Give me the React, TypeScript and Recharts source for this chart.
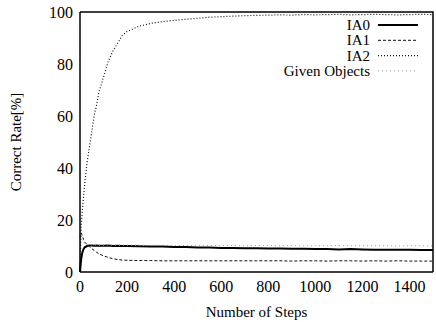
import { Line, LineChart, XAxis, YAxis } from "recharts"

const steps = [
  0, 5, 10, 15, 20, 30, 40, 50, 60, 70, 80, 100, 120, 140, 160, 180, 200, 250, 300, 350, 400, 450, 500,
  550, 600, 650, 700, 750, 800, 850, 900, 950, 1000, 1050, 1100, 1150, 1200, 1250, 1300, 1350, 1400,
  1450, 1500,
]

const ia0 = [
  0, 5, 7.5, 8.8, 9.5, 10, 10.2, 10.2, 10.1, 10.2, 10.1, 10.1, 10.2, 10, 10.1, 10, 10, 9.9, 9.8, 9.8,
  9.6, 9.6, 9.4, 9.4, 9.2, 9.2, 9.1, 9.1, 9, 9, 8.9, 8.9, 8.8, 8.8, 8.7, 8.8, 8.7, 8.6, 8.6, 8.6, 8.6,
  8.5, 8.5,
]

const ia1 = [
  13, 15, 14, 12.5, 11.5, 10.5, 9.8, 9, 8.3, 7.6, 7, 6.2, 5.6, 5.1, 4.8, 4.6, 4.5, 4.4, 4.4, 4.3, 4.3,
  4.3, 4.3, 4.3, 4.3, 4.3, 4.3, 4.3, 4.3, 4.3, 4.2, 4.3, 4.3, 4.2, 4.3, 4.3, 4.2, 4.3, 4.2, 4.3, 4.2,
  4.2, 4.2,
]

const ia2 = [
  2, 17, 24, 29, 34, 42, 48, 54, 60, 64, 69, 75, 81, 85, 88, 91, 92.5, 94.5, 95.6, 96.3, 96.8, 97.2,
  97.6, 98, 98.2, 98.4, 98.6, 98.7, 98.8, 98.9, 98.8, 99, 98.9, 99, 99.1, 98.9, 99, 99.1, 99, 98.9, 99,
  99.1, 99,
]

const given = [
  14, 13, 12, 11.3, 10.8, 10.5, 10.4, 10.4, 10.3, 10.4, 10.3, 10.3, 10.4, 10.3, 10.3, 10.3, 10.3,
  10.3, 10.2, 10.3, 10.2, 10.2, 10.3, 10.2, 10.2, 10.2, 10.1, 10.2, 10.2, 10.1, 10.2, 10.1, 10.1, 10.1,
  10.2, 10.1, 10.1, 10.1, 10.1, 10, 10.1, 10.1, 10,
]

const xTicks = [0, 200, 400, 600, 800, 1000, 1200, 1400]
const yTicks = [0, 20, 40, 60, 80, 100]

const data = steps.map((s, i) => ({ step: s, ia0: ia0[i], ia1: ia1[i], ia2: ia2[i], given: given[i] }))

const series = [
  { key: "ia0", name: "IA0", color: "#000", width: 2, dash: undefined },
  { key: "ia1", name: "IA1", color: "#111", width: 1, dash: "3 2" },
  { key: "ia2", name: "IA2", color: "#111", width: 1.2, dash: "1 2" },
  { key: "given", name: "Given Objects", color: "#999", width: 1, dash: "1 3" },
]

const font = "'Liberation Serif', 'Times New Roman', serif"

const margin = { top: 12, right: 3, bottom: 0, left: 0 }
const chartW = 436
const chartH = 322
const yAxisW = 80
const xAxisH = 50

// top + right border of the plot box (the axes draw left + bottom)
function Frame() {
  const left = margin.left + yAxisW
  const top = margin.top
  const right = chartW - margin.right
  const bottom = chartH - margin.bottom - xAxisH
  return (
    <svg
      width={chartW}
      height={chartH}
      style={{ position: "absolute", left: 0, top: 0, pointerEvents: "none" }}
    >
      <polyline
        points={`${left},${top} ${right},${top} ${right},${bottom}`}
        fill="none"
        stroke="#000"
        strokeWidth={1.5}
      />
    </svg>
  )
}

function LegendBox() {
  return (
    <svg
      width={170}
      height={70}
      style={{ position: "absolute", left: 260, top: 13, fontFamily: font, pointerEvents: "none" }}
    >
      {series.map((s, i) => (
        <g key={s.key}>
          <text x={110} y={17 + i * 15.3} textAnchor="end" fontSize={15} fill="#000">
            {s.name}
          </text>
          <line
            x1={118}
            x2={158}
            y1={12 + i * 15.3}
            y2={12 + i * 15.3}
            stroke={s.color}
            strokeWidth={s.width}
            strokeDasharray={s.dash}
          />
        </g>
      ))}
    </svg>
  )
}

export default function App() {
  const tickStyle = { fontSize: 16, fill: "#000", fontFamily: font }
  return (
    <div style={{ position: "absolute", left: 0, top: 0, width: chartW, height: chartH, background: "#fff" }}>
      <LineChart width={chartW} height={chartH} data={data} margin={margin}>
        <XAxis
          dataKey="step"
          type="number"
          domain={[0, 1500]}
          ticks={xTicks}
          height={xAxisH}
          tickLine={false}
          tickSize={0}
          tickMargin={9}
          axisLine={{ stroke: "#000", strokeWidth: 1.5 }}
          tick={tickStyle}
          label={{ value: "Number of Steps", position: "insideBottom", offset: 5, fontSize: 15, fill: "#000", fontFamily: font }}
        />
        <YAxis
          type="number"
          domain={[0, 100]}
          ticks={yTicks}
          width={yAxisW}
          tickLine={false}
          tickSize={0}
          tickMargin={7}
          axisLine={{ stroke: "#000", strokeWidth: 1.5 }}
          tick={tickStyle}
          label={{
            value: "Correct Rate[%]",
            angle: -90,
            position: "insideLeft",
            offset: 16,
            style: { textAnchor: "middle" },
            fontSize: 15,
            fill: "#000",
            fontFamily: font,
          }}
        />
        {series.map((s) => (
          <Line
            key={s.key}
            type="linear"
            dataKey={s.key}
            name={s.name}
            stroke={s.color}
            strokeWidth={s.width}
            strokeDasharray={s.dash}
            dot={false}
            isAnimationActive={false}
          />
        ))}
      </LineChart>
      <Frame />
      <LegendBox />
    </div>
  )
}
